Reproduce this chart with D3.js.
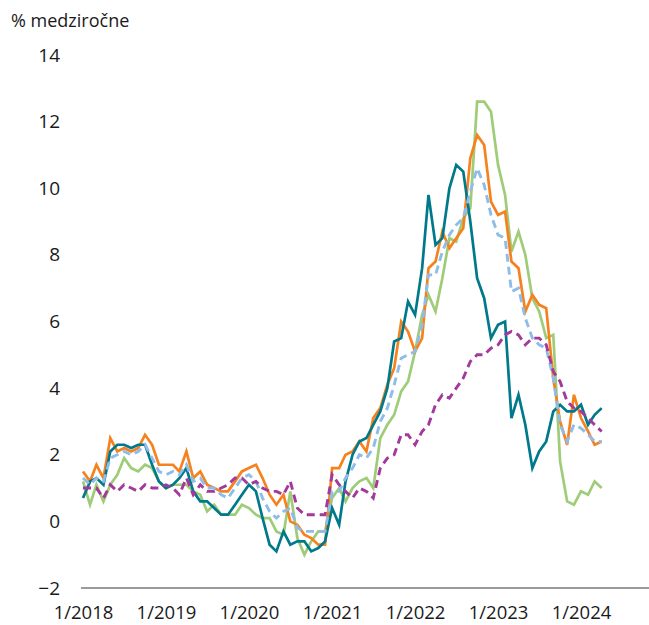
<!DOCTYPE html>
<html>
<head>
<meta charset="utf-8">
<script src="https://cdn.jsdelivr.net/npm/d3@7"></script>
<style>
  body { margin: 0; background: #fff; }
  svg text { font-family: "Open Sans", sans-serif; fill: #1a1a1a; }
</style>
</head>
<body>
<div id="chart"></div>
<script>
// monthly data, 1/2018 - 4/2024, % y/y
const firstMonth = new Date(2018, 0, 1);
const yearLabels = [2018, 2019, 2020, 2021, 2022, 2023, 2024];
const yTicks = [-2, 0, 2, 4, 6, 8, 10, 12, 14];

const orangeSeries = [
  1.5, 1.2, 1.7, 1.3, 2.5, 2.1, 2.2, 2.1, 2.2, 2.6, 2.3, 1.7,
  1.7, 1.7, 1.5, 2.1, 1.3, 1.5, 1.1, 1.0, 0.9, 0.9, 1.2, 1.5,
  1.6, 1.7, 1.3, 0.8, 0.5, 0.8, 0.0, -0.1, -0.4, -0.5, -0.7, -0.7,
  1.6, 1.6, 2.0, 2.1, 2.4, 2.1, 3.1, 3.4, 4.1, 4.6, 6.0, 5.7,
  5.1, 5.5, 7.6, 7.8, 8.7, 8.2, 8.5, 8.8, 10.9, 11.6, 11.3, 9.6,
  9.2, 9.3, 7.8, 7.6, 6.3, 6.8, 6.5, 6.4, 4.3, 3.0, 2.3, 3.8,
  3.1, 2.7, 2.3, 2.4
];
const tealSeries = [
  0.7, 1.2, 1.3, 1.1, 2.1, 2.3, 2.3, 2.2, 2.3, 2.3, 1.7, 1.2,
  1.0, 1.1, 1.3, 1.6, 0.9, 0.6, 0.6, 0.4, 0.2, 0.2, 0.5, 0.8,
  1.1, 0.9, 0.1, -0.7, -0.9, -0.3, -0.7, -0.6, -0.6, -0.9, -0.8, -0.6,
  0.4, -0.1, 1.2, 2.0, 2.4, 2.5, 2.9, 3.3, 4.0, 5.4, 5.5, 6.6,
  6.2, 7.6, 9.8, 8.3, 8.5, 10.0, 10.7, 10.5, 9.0, 7.3, 6.7, 5.5,
  5.9, 6.0, 3.1, 3.8, 2.9, 1.6, 2.1, 2.4, 3.3, 3.5, 3.3, 3.3,
  3.5, 2.9, 3.2, 3.4
];
const greenSeries = [
  1.2, 0.5, 1.1, 0.6, 1.1, 1.4, 1.9, 1.6, 1.5, 1.7, 1.6, 1.2,
  1.0, 1.1, 1.1, 1.1, 0.9, 0.8, 0.3, 0.5, 0.2, 0.2, 0.2, 0.5,
  0.4, 0.2, 0.1, 0.1, -0.3, -0.4, 0.9, -0.5, -1.0, -0.6, -0.3, -0.3,
  0.7, 1.0, 0.6, 1.0, 1.2, 1.3, 1.0, 2.5, 2.9, 3.2, 3.9, 4.2,
  5.1, 6.2, 6.8, 6.3, 7.3, 8.5, 8.4, 9.1, 9.4, 12.6, 12.6, 12.3,
  10.7, 9.8, 8.1, 8.7, 8.0, 6.7, 6.3, 5.5, 5.6, 1.8, 0.6, 0.5,
  0.9, 0.8, 1.2, 1.0
];
const blueDashedSeries = [
  1.3, 1.1, 1.3, 1.2, 1.9, 2.0, 2.1, 2.0, 2.1, 2.3, 1.9, 1.5,
  1.4, 1.5, 1.4, 1.7, 1.2, 1.3, 1.0, 1.0, 0.8, 0.7, 1.0, 1.3,
  1.4, 1.2, 0.7, 0.3, 0.1, 0.3, 0.4, -0.2, -0.3, -0.3, -0.3, -0.3,
  0.9, 0.9, 1.3, 1.6, 2.0, 1.9, 2.2, 3.0, 3.4, 4.1, 4.9, 5.0,
  5.1, 5.9, 7.4, 7.4, 8.1, 8.6, 8.9, 9.1, 9.9, 10.6, 10.1, 9.2,
  8.6, 8.5, 6.9, 7.0, 6.1, 5.5, 5.3, 5.2, 4.3, 2.9, 2.4, 2.9,
  2.8, 2.6, 2.4, 2.4
];
const purpleDashedSeries = [
  1.0, 1.0, 1.0, 0.7, 1.1, 0.9, 1.1, 1.0, 0.9, 1.1, 1.0, 1.0,
  1.1, 1.0, 0.8, 1.3, 0.8, 1.1, 0.9, 0.9, 1.0, 1.1, 1.3, 1.3,
  1.1, 1.2, 1.0, 0.9, 0.9, 0.8, 1.2, 0.4, 0.2, 0.2, 0.2, 0.2,
  1.4, 1.1, 0.9, 0.7, 1.0, 0.9, 0.7, 1.6, 1.9, 2.0, 2.6, 2.6,
  2.3, 2.7, 2.9, 3.5, 3.8, 3.7, 4.0, 4.3, 4.8, 5.0, 5.0, 5.2,
  5.3, 5.6, 5.7, 5.6, 5.3, 5.5, 5.5, 5.3, 4.5, 4.2, 3.6, 3.4,
  3.3, 3.1, 2.9, 2.7
];

function inflationChart() {
  let width = 649, height = 625;

  let svg = d3.select("#chart").append("svg")
              .attr("width", width)
              .attr("height", height);

  let xScale = d3.scaleTime()
                  .domain([new Date(2018, 0, 1), new Date(2024, 0, 1)])
                  .range([83, 581]);

  let yScale = d3.scaleLinear()
                  .domain([-2, 14])
                  .range([588, 55]);

  /* unit label */
  svg.append("text")
     .attr("x", 11)
     .attr("y", 27)
     .attr("font-size", "18px")
     .text("% medziročne");

  /* y-axis labels only */
  let yAxis = d3.axisLeft(yScale)
      .tickValues(yTicks)
      .tickSize(0)
      .tickPadding(0);

  svg.append("g")
     .attr("transform", "translate(60,0)")
     .call(yAxis)
     .call(g => g.select(".domain").remove())
     .selectAll("text")
     .attr("font-size", "19px")
     .attr("fill", "#1a1a1a");

  /* x-axis */
  let xAxis = d3.axisBottom(xScale)
      .tickValues(yearLabels.map(y => new Date(y, 0, 1)))
      .tickFormat(d => "1/" + d.getFullYear())
      .tickSize(0)
      .tickPadding(18);

  let xg = svg.append("g")
     .attr("transform", "translate(0," + yScale(-2) + ")")
     .call(xAxis);
  xg.select(".domain").remove();
  xg.selectAll("text")
    .attr("font-size", "18.5px")
    .attr("fill", "#1a1a1a");

  svg.append("line")
     .attr("x1", xScale(firstMonth) - 2)
     .attr("x2", width)
     .attr("y1", yScale(-2))
     .attr("y2", yScale(-2))
     .attr("stroke", "#7a7a7a")
     .attr("stroke-width", 1.5);

  let line = d3.line()
      .x((d, i) => xScale(d3.timeMonth.offset(firstMonth, i)))
      .y(d => yScale(d));

  let series = [
    {values: greenSeries, color: "#9fcc78", dash: null},
    {values: orangeSeries, color: "#f5821f", dash: null},
    {values: tealSeries, color: "#00798a", dash: null},
    {values: blueDashedSeries, color: "#8dbde8", dash: "8,5"},
    {values: purpleDashedSeries, color: "#a2399b", dash: "8,5"}
  ];

  svg.selectAll("path.series")
     .data(series)
     .enter()
     .append("path")
     .attr("class", "series")
     .attr("d", d => line(d.values))
     .attr("fill", "none")
     .attr("stroke", d => d.color)
     .attr("stroke-width", d => d.dash ? 2.9 : 2.7)
     .attr("stroke-linejoin", "miter")
     .attr("stroke-dasharray", d => d.dash);
}

inflationChart();
</script>
</body>
</html>
